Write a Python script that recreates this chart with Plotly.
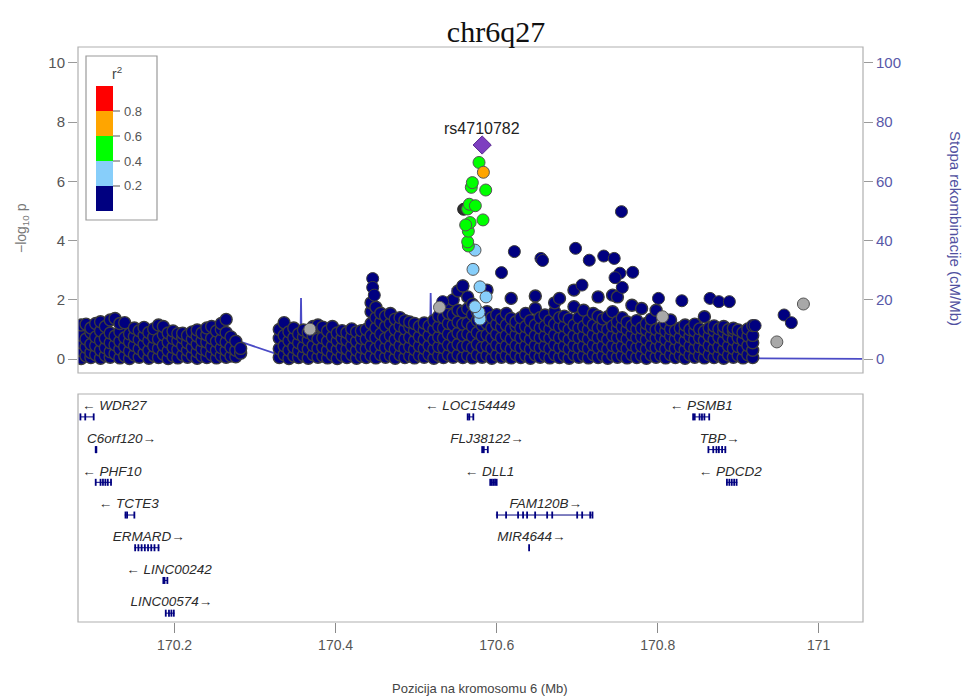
import plotly.graph_objects as go

# ---------------- data ----------------
title_text = "chr6q27"
lead_snp = "rs4710782"
lead_pos = 170.582
lead_logp = 7.23

r2_breaks = [0.0, 0.2, 0.4, 0.6, 0.8, 1.0]
r2_colors = ["#000080", "#87CEFA", "#00FF00", "#FFA500", "#FF0000"]
r2_tick_labels = ["0.2", "0.4", "0.6", "0.8"]

# dense background SNPs (r2 < 0.2), grouped by position column
bg_pos = [
    170.084, 170.090, 170.096, 170.102, 170.108, 170.114, 170.120, 170.126, 170.132, 170.138,
    170.144, 170.150, 170.156, 170.162, 170.168, 170.174, 170.180, 170.186, 170.192, 170.198,
    170.204, 170.210, 170.216, 170.222, 170.228, 170.234, 170.240, 170.246, 170.252, 170.258,
    170.264, 170.270, 170.276, 170.282,
    170.330, 170.336, 170.342, 170.348, 170.354, 170.360, 170.366, 170.372, 170.378, 170.384,
    170.390, 170.396, 170.402, 170.408, 170.414, 170.420, 170.426, 170.432, 170.438, 170.444,
    170.450, 170.456, 170.462, 170.468, 170.474, 170.480, 170.486, 170.492, 170.498, 170.504,
    170.510, 170.516, 170.522, 170.528, 170.534, 170.540, 170.546, 170.552, 170.558, 170.564,
    170.570, 170.576, 170.582, 170.588, 170.594, 170.600, 170.606, 170.612, 170.618, 170.624,
    170.630, 170.636, 170.642, 170.648, 170.654, 170.660, 170.666, 170.672, 170.678, 170.684,
    170.690, 170.696, 170.702, 170.708, 170.714, 170.720, 170.726, 170.732, 170.738, 170.744,
    170.750, 170.756, 170.762, 170.768, 170.774, 170.780, 170.786, 170.792, 170.798, 170.804,
    170.810, 170.816, 170.822, 170.828, 170.834, 170.840, 170.846, 170.852, 170.858, 170.864,
    170.870, 170.876, 170.882, 170.888, 170.894, 170.900, 170.906, 170.912, 170.918,
]
bg_logp = [
    [0.02, 0.28, 0.55, 0.80, 1.15], [0.10, 0.40, 0.68, 1.18], [0.05, 0.22, 0.50, 0.90, 1.05],
    [0.15, 0.45, 0.75, 1.20], [0.03, 0.30, 0.62, 0.95, 1.26], [0.12, 0.38, 0.70, 1.10],
    [0.06, 0.25, 0.55, 0.88, 1.32], [0.18, 0.48, 0.78, 1.37], [0.04, 0.33, 0.60, 0.92, 1.20],
    [0.10, 0.42, 0.72, 1.23], [0.02, 0.27, 0.58, 0.85], [0.14, 0.46, 0.76, 1.05],
    [0.06, 0.35, 0.66, 0.96], [0.20, 0.50, 0.80, 1.07], [0.03, 0.30, 0.62, 0.90],
    [0.12, 0.44, 0.74, 1.02], [0.05, 0.36, 0.68, 1.15], [0.16, 0.47, 0.82, 1.10],
    [0.02, 0.28, 0.58, 0.88], [0.10, 0.40, 0.70, 0.95], [0.04, 0.32, 0.62, 0.86],
    [0.14, 0.45, 0.72, 0.87], [0.06, 0.30, 0.55, 0.80], [0.12, 0.40, 0.68, 0.92],
    [0.03, 0.25, 0.50, 0.78, 0.98], [0.10, 0.35, 0.62, 0.88], [0.05, 0.28, 0.58, 0.82, 1.05],
    [0.15, 0.42, 0.70, 1.10], [0.04, 0.30, 0.60, 0.95], [0.12, 0.38, 0.66, 1.00, 1.20],
    [0.06, 0.30, 0.58, 0.90, 1.34], [0.10, 0.40, 0.75], [0.08, 0.30, 0.60], [0.20, 0.36],
    [0.05, 0.35, 0.70, 1.00], [0.15, 0.45, 0.80, 1.23], [0.02, 0.30, 0.62, 0.92],
    [0.10, 0.40, 0.72, 1.05], [0.05, 0.28, 0.55, 0.85], [0.12, 0.42, 0.75, 0.98],
    [0.03, 0.33, 0.64, 0.90], [0.15, 0.46, 0.80, 1.10], [0.06, 0.36, 0.68, 1.15],
    [0.10, 0.40, 0.72, 1.08], [0.04, 0.30, 0.60, 0.95], [0.14, 0.44, 0.76, 1.10],
    [0.02, 0.32, 0.62, 0.88], [0.12, 0.40, 0.70, 0.96], [0.05, 0.34, 0.64, 0.90],
    [0.15, 0.45, 0.75, 1.02], [0.03, 0.30, 0.60, 0.92], [0.10, 0.40, 0.70, 0.96],
    [0.05, 0.35, 0.68, 1.00], [0.12, 0.45, 0.80, 1.20, 1.60, 1.90],
    [0.04, 0.36, 0.72, 1.05, 1.40, 1.75], [0.15, 0.48, 0.85, 1.25, 1.55],
    [0.06, 0.38, 0.70, 1.10, 1.45], [0.12, 0.44, 0.80, 1.20, 1.54],
    [0.03, 0.34, 0.66, 1.00, 1.35], [0.14, 0.46, 0.78, 1.12, 1.40],
    [0.05, 0.36, 0.68, 1.02, 1.30], [0.10, 0.42, 0.74, 1.08, 1.25],
    [0.04, 0.32, 0.62, 0.95, 1.20], [0.12, 0.44, 0.76, 1.10],
    [0.06, 0.36, 0.66, 0.98, 1.22], [0.15, 0.46, 0.80, 1.12],
    [0.03, 0.34, 0.65, 1.00, 1.30], [0.12, 0.42, 0.75, 1.10, 1.45],
    [0.05, 0.38, 0.70, 1.05, 1.40], [0.14, 0.48, 0.85, 1.20, 1.55, 1.90],
    [0.06, 0.40, 0.75, 1.15, 1.50, 2.00], [0.15, 0.50, 0.88, 1.25, 1.65, 2.30],
    [0.05, 0.42, 0.80, 1.18, 1.60, 2.47], [0.12, 0.46, 0.85, 1.22, 1.70, 2.10],
    [0.04, 0.38, 0.76, 1.10, 1.50, 1.85], [0.15, 0.50, 0.90, 1.30, 1.60],
    [0.06, 0.40, 0.78, 1.15, 1.45], [0.12, 0.45, 0.82, 1.20, 1.60, 2.33],
    [0.03, 0.36, 0.70, 1.05, 1.40], [0.14, 0.48, 0.84, 1.18, 1.50],
    [0.06, 0.38, 0.72, 1.08, 1.35], [0.12, 0.44, 0.80, 1.15, 1.54],
    [0.04, 0.34, 0.68, 1.02, 1.37, 2.05], [0.15, 0.46, 0.82, 1.12, 1.26],
    [0.05, 0.38, 0.72, 1.05, 1.40], [0.12, 0.44, 0.78, 1.10, 1.54],
    [0.03, 0.34, 0.66, 0.98, 1.30], [0.14, 0.46, 0.80, 1.15, 1.71, 2.13],
    [0.06, 0.38, 0.72, 1.05, 1.40], [0.12, 0.44, 0.78, 1.12, 1.49],
    [0.04, 0.36, 0.70, 1.02, 1.30], [0.15, 0.48, 0.82, 1.18, 1.60, 1.90],
    [0.05, 0.38, 0.72, 1.08, 1.40, 2.05], [0.12, 0.44, 0.78, 1.12, 1.45],
    [0.03, 0.34, 0.66, 1.00, 1.35], [0.14, 0.46, 0.80, 1.15, 1.77, 2.33],
    [0.06, 0.38, 0.72, 1.05, 1.40], [0.12, 0.44, 0.78, 1.10, 1.65],
    [0.04, 0.36, 0.68, 1.00, 1.30], [0.15, 0.48, 0.82, 1.15, 1.54],
    [0.05, 0.38, 0.72, 1.05, 1.45, 2.10], [0.12, 0.44, 0.78, 1.10, 1.35],
    [0.03, 0.34, 0.66, 1.00, 1.43], [0.14, 0.46, 0.80, 1.12, 1.60, 2.16],
    [0.06, 0.38, 0.72, 1.05, 1.26, 2.10], [0.12, 0.44, 0.78, 1.10, 1.40],
    [0.04, 0.36, 0.68, 1.00, 1.25], [0.15, 0.48, 0.82, 1.12, 1.82],
    [0.05, 0.38, 0.72, 1.02, 1.30], [0.12, 0.44, 0.76, 1.05, 1.71],
    [0.03, 0.34, 0.66, 0.98, 1.20], [0.14, 0.46, 0.80, 1.08, 1.35],
    [0.06, 0.38, 0.70, 1.00, 1.65], [0.12, 0.44, 0.76, 1.05],
    [0.04, 0.34, 0.66, 0.95, 1.20], [0.15, 0.46, 0.78, 1.02, 1.32],
    [0.05, 0.36, 0.68, 0.96], [0.12, 0.42, 0.74, 1.05],
    [0.03, 0.32, 0.62, 0.92, 1.15], [0.14, 0.44, 0.76, 1.00],
    [0.06, 0.36, 0.66, 0.95, 1.18], [0.12, 0.42, 0.72, 1.02],
    [0.04, 0.34, 0.64, 0.94, 1.43], [0.15, 0.46, 0.78, 1.05],
    [0.05, 0.36, 0.66, 0.96, 1.12], [0.12, 0.42, 0.74, 1.02],
    [0.03, 0.32, 0.62, 0.92, 1.10], [0.14, 0.44, 0.76, 1.00],
    [0.06, 0.36, 0.66, 0.95, 1.04], [0.12, 0.42, 0.72, 0.98],
    [0.04, 0.34, 0.64, 0.90], [0.15, 0.46, 0.78, 1.02],
    [0.05, 0.30, 0.55, 0.80, 1.13],
]

# scattered higher background SNPs (r2 < 0.2)
hi_pos = [170.446, 170.446, 170.448, 170.533, 170.558, 170.622, 170.698, 170.655, 170.657,
          170.715, 170.733, 170.746, 170.606, 170.755, 170.769, 170.753, 170.747, 170.706,
          170.756, 170.801, 170.830, 170.865, 170.876, 170.889, 170.957, 170.966, 170.921]
hi_logp = [2.72, 2.42, 2.16, 1.94, 2.47, 3.63, 3.74, 3.40, 3.33,
           3.34, 3.48, 3.40, 2.92, 4.98, 2.93, 2.90, 2.75, 2.50,
           2.42, 2.05, 1.97, 2.05, 1.94, 1.94, 1.49, 1.23, 1.13]

# SNPs without LD information
gray_pos = [170.368, 170.529, 170.806, 170.948, 170.981]
gray_logp = [1.01, 1.75, 1.43, 0.58, 1.86]
dark_pos = [170.559]
dark_logp = [5.06]

# SNPs in LD with the lead SNP
ld_pos = [170.5731, 170.5706, 170.5793, 170.5868, 170.5731, 170.5781, 170.5793,
          170.5781, 170.5698, 170.5864, 170.5685, 170.5660, 170.5735, 170.5640, 170.5830,
          170.5670, 170.5615, 170.5648, 170.5640, 170.5648,
          170.5835]
ld_logp = [3.68, 3.03, 2.44, 2.10, 1.77, 1.58, 1.35,
           6.64, 5.96, 5.71, 5.80, 5.23, 5.18, 5.07, 4.70,
           4.61, 4.53, 4.32, 3.96, 3.82,
           6.31]
ld_r2 = [0.30, 0.30, 0.28, 0.27, 0.25, 0.24, 0.22,
         0.52, 0.50, 0.50, 0.49, 0.48, 0.48, 0.47, 0.46,
         0.45, 0.45, 0.44, 0.43, 0.42,
         0.65]

# recombination rate (cM/Mb)
rec_pos = [170.080, 170.120, 170.180, 170.240, 170.262, 170.270, 170.281, 170.322, 170.330,
           170.356, 170.357, 170.358, 170.400, 170.450, 170.517, 170.518, 170.520,
           170.544, 170.545, 170.547, 170.600, 170.700, 170.800, 170.900, 170.921, 171.054]
rec_rate = [0.4, 0.6, 0.5, 0.8, 1.5, 4.0, 5.9, 2.0, 1.4,
            0.6, 20.6, 0.6, 0.5, 0.8, 0.7, 22.3, 0.7,
            0.8, 24.0, 0.8, 0.6, 0.5, 0.4, 0.3, 0.2, 0.1]

# genes
gene_names = ["WDR27", "C6orf120", "PHF10", "TCTE3", "ERMARD", "LINC00242", "LINC00574",
              "LOC154449", "FLJ38122", "DLL1", "FAM120B", "MIR4644",
              "PSMB1", "TBP", "PDCD2"]
gene_strand = ["-", "+", "-", "-", "+", "-", "+",
               "-", "+", "-", "+", "+",
               "-", "+", "-"]
gene_row = [0, 1, 2, 3, 4, 5, 6, 0, 1, 2, 3, 4, 0, 1, 2]
gene_start = [170.083, 170.1015, 170.102, 170.138, 170.150, 170.186, 170.189,
              170.564, 170.582, 170.592, 170.599, 170.6398,
              170.844, 170.863, 170.885]
gene_end = [170.0995, 170.1035, 170.122, 170.150, 170.181, 170.191, 170.200,
            170.571, 170.589, 170.600, 170.719, 170.6408,
            170.865, 170.885, 170.899]
gene_label_pos = [170.125, 170.134, 170.122, 170.143, 170.168, 170.193, 170.196,
                  170.567, 170.588, 170.591, 170.661, 170.643,
                  170.854, 170.877, 170.890]
gene_exons = [
    [170.083, 170.089, 170.0995],
    [170.1020, 170.1028],
    [170.102, 170.108, 170.111, 170.114, 170.117, 170.121],
    [170.139, 170.141, 170.150],
    [170.151, 170.155, 170.159, 170.163, 170.167, 170.171, 170.175, 170.180],
    [170.186, 170.1875, 170.191],
    [170.189, 170.193, 170.196, 170.199],
    [170.564, 170.566, 170.571],
    [170.582, 170.584, 170.589],
    [170.592, 170.594, 170.596, 170.598, 170.600],
    [170.6005, 170.6117, 170.6266, 170.6328, 170.6378, 170.6478, 170.6627, 170.6690,
     170.7000, 170.7062, 170.7162, 170.719],
    [170.6403],
    [170.844, 170.846, 170.852, 170.855, 170.858, 170.864],
    [170.863, 170.869, 170.873, 170.876, 170.880, 170.884],
    [170.886, 170.889, 170.892, 170.895, 170.898],
]

x_ticks = [170.2, 170.4, 170.6, 170.8, 171.0]
x_tick_labels = ["170.2", "170.4", "170.6", "170.8", "171"]
logp_ticks = [0, 2, 4, 6, 8, 10]
rec_ticks = [0, 20, 40, 60, 80, 100]

x_range = [170.08, 171.055]
logp_range = [-0.47, 10.54]
rec_range = [-4.7, 105.4]
gene_row_range = [6.27, -0.70]

# ---------------- layout geometry (pixels) ----------------
W, H = 966, 697
ML, MR, MT, MB = 78, 103, 47, 75
UP_BOTTOM_PX = 373
GENE_TOP_PX = 394


def px2paper_x(px):
    return (px - ML) / (W - ML - MR)


def px2paper_y(py):
    return (H - MB - py) / (H - MT - MB)


def r2_color(r):
    for i in range(len(r2_colors)):
        if r2_breaks[i] <= r < r2_breaks[i + 1]:
            return r2_colors[i]
    return r2_colors[-1]


FONT = "Liberation Sans, Arial, sans-serif"
NAVY = "#000080"
OUTLINE = "#3C3C3C"
REC_COLOR = "#4B4BC6"
MSIZE = 12

fig = go.Figure()

# recombination rate (base axis y, drawn below points)
fig.add_trace(go.Scatter(x=rec_pos, y=rec_rate, mode="lines", xaxis="x", yaxis="y",
                         line=dict(color=REC_COLOR, width=1.8), hoverinfo="skip"))

# background points
bx, by = [], []
for p, vals in zip(bg_pos, bg_logp):
    for v in vals:
        bx.append(p)
        by.append(v)
fig.add_trace(go.Scatter(x=bx, y=by, mode="markers", xaxis="x", yaxis="y2",
                         marker=dict(size=MSIZE, color=NAVY, line=dict(color=OUTLINE, width=1.4))))
fig.add_trace(go.Scatter(x=hi_pos, y=hi_logp, mode="markers", xaxis="x", yaxis="y2",
                         marker=dict(size=MSIZE, color=NAVY, line=dict(color=OUTLINE, width=1))))
fig.add_trace(go.Scatter(x=gray_pos, y=gray_logp, mode="markers", xaxis="x", yaxis="y2",
                         marker=dict(size=MSIZE, color="#A8A8A8", line=dict(color="#555555", width=1))))
fig.add_trace(go.Scatter(x=dark_pos, y=dark_logp, mode="markers", xaxis="x", yaxis="y2",
                         marker=dict(size=MSIZE, color="#2E2E2E", line=dict(color="#222222", width=1))))
# LD points, ordered by r2 so higher LD is on top
order = sorted(range(len(ld_r2)), key=lambda i: ld_r2[i])
fig.add_trace(go.Scatter(x=[ld_pos[i] for i in order], y=[ld_logp[i] for i in order],
                         mode="markers", xaxis="x", yaxis="y2",
                         marker=dict(size=MSIZE, color=[r2_color(ld_r2[i]) for i in order],
                                     line=dict(color="#555555", width=1))))
# lead SNP
fig.add_trace(go.Scatter(x=[lead_pos], y=[lead_logp], mode="markers", xaxis="x", yaxis="y2",
                         marker=dict(size=14, symbol="diamond", color="#7E3FC0",
                                     line=dict(color="#5a2a90", width=1))))

# gene bodies
gx, gy = [], []
for s, e, r in zip(gene_start, gene_end, gene_row):
    gx += [s, e, None]
    gy += [r, r, None]
fig.add_trace(go.Scatter(x=gx, y=gy, mode="lines", xaxis="x2", yaxis="y3",
                         line=dict(color=NAVY, width=1)))
ex, ey = [], []
for exs, r in zip(gene_exons, gene_row):
    for e in exs:
        ex.append(e)
        ey.append(r)
fig.add_trace(go.Scatter(x=ex, y=ey, mode="markers", xaxis="x2", yaxis="y3",
                         marker=dict(symbol="line-ns", size=5, line=dict(color=NAVY, width=1.8))))
labels = []
for n, s in zip(gene_names, gene_strand):
    labels.append("<i>\u2190 " + n + "</i>" if s == "-" else "<i>" + n + "\u2192</i>")
fig.add_trace(go.Scatter(x=gene_label_pos, y=[r - 0.31 for r in gene_row], mode="text",
                         text=labels, xaxis="x2", yaxis="y3",
                         textfont=dict(family=FONT, size=13.5, color="#2a2a2a")))

up_domain = [px2paper_y(UP_BOTTOM_PX), 1.0]
gene_domain = [0.0, px2paper_y(GENE_TOP_PX)]

fig.update_layout(
    width=W, height=H,
    margin=dict(l=ML, r=MR, t=MT, b=MB),
    paper_bgcolor="white", plot_bgcolor="white",
    showlegend=False,
    font=dict(family=FONT),
    title=dict(text=title_text, x=496 / W, xanchor="center", y=1 - 31 / H, yanchor="middle",
               font=dict(family="Liberation Serif, Times New Roman, serif", size=30, color="#111")),
    xaxis=dict(domain=[0, 1], range=x_range, anchor="y", showticklabels=False, ticks="",
               showgrid=False, zeroline=False, showline=False),
    yaxis=dict(domain=up_domain, range=rec_range, side="right", anchor="x",
               tickvals=rec_ticks, ticks="outside", ticklen=9, tickcolor="#9a9a9a",
               tickfont=dict(size=15, color="#5858A8", family=FONT),
               showgrid=False, zeroline=False, showline=False),
    yaxis2=dict(range=logp_range, overlaying="y", side="left", anchor="x",
                tickvals=logp_ticks, ticks="outside", ticklen=9, tickcolor="#9a9a9a",
                tickfont=dict(size=15, color="#555555", family=FONT),
                showgrid=False, zeroline=False, showline=False),
    xaxis2=dict(domain=[0, 1], range=x_range, anchor="y3", tickvals=x_ticks,
                ticktext=x_tick_labels, ticks="outside", ticklen=10, tickcolor="#8a8a8a",
                tickfont=dict(size=14, color="#555555", family=FONT),
                showgrid=False, zeroline=False, showline=False),
    yaxis3=dict(domain=gene_domain, range=gene_row_range, anchor="x2", showticklabels=False,
                ticks="", showgrid=False, zeroline=False, showline=False),
)

# panel borders
for xr, yr in (("x domain", "y domain"), ("x2 domain", "y3 domain")):
    fig.add_shape(type="rect", xref=xr, yref=yr, x0=0, x1=1, y0=0, y1=1,
                  line=dict(color="#B0B0B0", width=1.2), layer="above")

# r2 legend
lx0, lx1, ly0, ly1 = px2paper_x(86), px2paper_x(157), px2paper_y(56), px2paper_y(220)
fig.add_shape(type="rect", xref="paper", yref="paper", x0=lx0, x1=lx1, y0=ly1, y1=ly0,
              line=dict(color="#9a9a9a", width=1.2), fillcolor="white", layer="above")
bar_x0, bar_x1 = px2paper_x(96), px2paper_x(113)
seg_top, seg_h = 86, 25
for i, c in enumerate(reversed(r2_colors)):
    fig.add_shape(type="rect", xref="paper", yref="paper", x0=bar_x0, x1=bar_x1,
                  y0=px2paper_y(seg_top + (i + 1) * seg_h), y1=px2paper_y(seg_top + i * seg_h),
                  line=dict(width=0), fillcolor=c, layer="above")
for i, lab in enumerate(reversed(r2_tick_labels)):
    yy = px2paper_y(seg_top + (i + 1) * seg_h)
    fig.add_shape(type="line", xref="paper", yref="paper", x0=bar_x1, x1=px2paper_x(120),
                  y0=yy, y1=yy, line=dict(color="#555555", width=1), layer="above")
    fig.add_annotation(xref="paper", yref="paper", x=px2paper_x(122), y=yy, text=lab,
                       showarrow=False, xanchor="left", yanchor="middle",
                       font=dict(size=13, color="#555555", family=FONT))
fig.add_annotation(xref="paper", yref="paper", x=px2paper_x(117), y=px2paper_y(73),
                   text="r<sup>2</sup>", showarrow=False, xanchor="center", yanchor="middle",
                   font=dict(size=14, color="#444444", family=FONT))

# lead SNP label
fig.add_annotation(xref="x", yref="y2", x=lead_pos, y=lead_logp, text=lead_snp, yshift=17,
                   showarrow=False, font=dict(size=16, color="#222222", family=FONT))

# axis titles
fig.add_annotation(xref="paper", yref="paper", x=px2paper_x(22), y=px2paper_y(228),
                   text="\u2212log<sub>10</sub> p", textangle=-90, showarrow=False,
                   xanchor="center", yanchor="middle",
                   font=dict(size=14, color="#777777", family=FONT))
fig.add_annotation(xref="paper", yref="paper", x=px2paper_x(956), y=px2paper_y(228),
                   text="Stopa rekombinacije (cM/Mb)", textangle=90, showarrow=False,
                   xanchor="center", yanchor="middle",
                   font=dict(size=15, color="#5050A0", family=FONT))
fig.add_annotation(xref="paper", yref="paper", x=px2paper_x(480), y=px2paper_y(688),
                   text="Pozicija na kromosomu 6 (Mb)", showarrow=False,
                   xanchor="center", yanchor="middle",
                   font=dict(size=13, color="#444444", family=FONT))

fig.write_html("out.html")
